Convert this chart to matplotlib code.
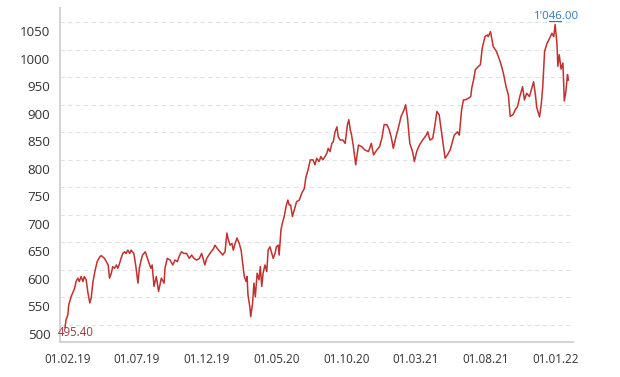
import pandas as pd
import matplotlib
matplotlib.use("Agg")
import matplotlib.pyplot as plt
import matplotlib.dates as mdates
import matplotlib.transforms as mtransforms

# closing prices
dates = [
    "2019-01-26", "2019-01-28", "2019-02-01", "2019-02-03", "2019-02-08", "2019-02-16", "2019-02-19",
    "2019-02-23", "2019-02-26", "2019-03-02", "2019-03-06", "2019-03-09", "2019-03-13", "2019-03-17",
    "2019-03-21", "2019-03-24", "2019-03-28", "2019-04-01", "2019-04-06", "2019-04-12", "2019-04-15",
    "2019-04-22", "2019-04-30", "2019-05-03", "2019-05-07", "2019-05-10", "2019-05-14", "2019-05-18",
    "2019-05-21", "2019-05-25", "2019-05-28", "2019-06-01", "2019-06-05", "2019-06-08", "2019-06-12",
    "2019-06-16", "2019-06-19", "2019-06-25", "2019-06-29", "2019-07-04", "2019-07-07", "2019-07-11",
    "2019-07-14", "2019-07-20", "2019-07-26", "2019-08-01", "2019-08-04", "2019-08-08", "2019-08-13",
    "2019-08-18", "2019-08-24", "2019-08-30", "2019-09-01", "2019-09-06", "2019-09-12", "2019-09-18",
    "2019-09-23", "2019-09-28", "2019-10-03", "2019-10-07", "2019-10-12", "2019-10-18", "2019-10-24",
    "2019-10-29", "2019-11-03", "2019-11-09", "2019-11-15", "2019-11-20", "2019-11-24", "2019-11-27",
    "2019-12-01", "2019-12-08", "2019-12-16", "2019-12-19", "2019-12-24", "2019-12-30",
    "2020-01-05", "2020-01-10", "2020-01-14", "2020-01-17", "2020-01-21", "2020-01-25", "2020-01-28",
    "2020-02-01", "2020-02-05", "2020-02-10", "2020-02-14", "2020-02-18", "2020-02-21", "2020-02-25",
    "2020-02-27", "2020-02-29", "2020-03-04", "2020-03-06", "2020-03-10", "2020-03-13", "2020-03-16",
    "2020-03-20", "2020-03-24", "2020-03-27", "2020-03-30", "2020-04-02", "2020-04-06", "2020-04-10",
    "2020-04-13", "2020-04-17", "2020-04-21", "2020-04-24", "2020-04-28", "2020-05-01", "2020-05-05",
    "2020-05-07", "2020-05-11", "2020-05-14", "2020-05-18", "2020-05-22", "2020-05-26", "2020-05-29",
    "2020-06-01", "2020-06-05", "2020-06-09", "2020-06-14", "2020-06-20", "2020-06-25", "2020-07-01",
    "2020-07-04", "2020-07-09", "2020-07-14", "2020-07-20", "2020-07-24", "2020-07-28", "2020-08-02",
    "2020-08-06", "2020-08-10", "2020-08-15", "2020-08-19", "2020-08-22", "2020-08-26", "2020-08-30",
    "2020-09-02", "2020-09-06", "2020-09-10", "2020-09-13", "2020-09-17", "2020-09-23", "2020-09-28",
    "2020-10-03", "2020-10-06", "2020-10-09", "2020-10-12", "2020-10-16", "2020-10-21", "2020-10-27",
    "2020-11-03", "2020-11-10", "2020-11-18", "2020-11-24", "2020-11-29", "2020-12-06", "2020-12-12",
    "2020-12-17", "2020-12-22", "2020-12-28",
    "2021-01-02", "2021-01-07", "2021-01-11", "2021-01-16", "2021-01-22", "2021-01-28", "2021-02-02",
    "2021-02-07", "2021-02-11", "2021-02-16", "2021-02-22", "2021-02-26", "2021-03-03", "2021-03-09",
    "2021-03-16", "2021-03-24", "2021-03-27", "2021-04-01", "2021-04-07", "2021-04-12", "2021-04-16",
    "2021-04-21", "2021-04-25", "2021-04-29", "2021-05-04", "2021-05-09", "2021-05-15", "2021-05-19",
    "2021-05-24", "2021-05-31", "2021-06-04", "2021-06-09", "2021-06-13", "2021-06-17", "2021-06-24",
    "2021-06-29", "2021-07-01", "2021-07-05", "2021-07-09", "2021-07-16", "2021-07-20", "2021-07-24",
    "2021-07-30", "2021-08-04", "2021-08-06", "2021-08-11", "2021-08-17", "2021-08-24", "2021-09-01",
    "2021-09-08", "2021-09-14", "2021-09-19", "2021-09-23", "2021-09-29", "2021-10-04", "2021-10-09",
    "2021-10-14", "2021-10-20", "2021-10-24", "2021-10-29", "2021-11-04", "2021-11-09", "2021-11-13",
    "2021-11-17", "2021-11-20", "2021-11-26", "2021-11-30", "2021-12-03", "2021-12-07", "2021-12-12",
    "2021-12-18", "2021-12-23", "2021-12-27", "2021-12-30",
    "2022-01-03", "2022-01-05", "2022-01-08", "2022-01-12", "2022-01-16", "2022-01-19", "2022-01-22",
    "2022-01-26", "2022-01-28",
]
prices = [
    495.4, 509, 518, 536, 551, 567, 579,
    585, 579, 588, 579, 588, 582, 558,
    540, 549, 579, 597, 615, 624, 626,
    621, 609, 585, 594, 606, 603, 609,
    603, 612, 621, 630, 633, 630, 636,
    630, 636, 630, 609, 576, 603, 618,
    627, 633, 618, 603, 609, 570, 588,
    561, 585, 576, 603, 621, 618, 609,
    618, 615, 627, 633, 630, 630, 621,
    627, 621, 618, 621, 630, 618, 609,
    621, 630, 639, 645, 639, 633,
    627, 633, 667, 655, 645, 648, 636,
    648, 658, 648, 636, 609, 588, 579,
    588, 555, 533, 515, 539, 576, 551,
    594, 582, 606, 570, 594, 609, 597,
    636, 642, 630, 621, 630, 642, 645,
    627, 673, 685, 697, 715, 727, 718,
    718, 697, 709, 724, 727, 739, 748,
    767, 782, 800, 800, 791, 803, 797,
    806, 800, 806, 812, 821, 815, 830,
    833, 851, 860, 842, 836, 836, 830,
    864, 873, 855, 845, 824, 791, 827,
    824, 818, 815, 830, 809, 818, 824,
    839, 864, 864,
    855, 839, 821, 839, 858, 879, 888,
    900, 876, 830, 815, 797, 815, 827,
    836, 845, 851, 836, 839, 864, 888,
    882, 858, 833, 803, 809, 818, 830,
    845, 851, 845, 891, 909, 909, 912,
    915, 930, 945, 964, 970, 973, 1003,
    1024, 1027, 1024, 1033, 1006, 997, 979,
    958, 933, 918, 879, 882, 891, 897,
    915, 933, 909, 921, 915, 930, 942,
    918, 895, 878, 903, 933, 997, 1011,
    1021, 1030, 1024, 1046,
    1011, 970, 991, 965, 976, 907, 921,
    955, 945,
]

x_ticks = ["2019-02-01", "2019-07-01", "2019-12-01", "2020-05-01",
           "2020-10-01", "2021-03-01", "2021-08-01", "2022-01-01"]
y_ticks = [500, 550, 600, 650, 700, 750, 800, 850, 900, 950, 1000, 1050]

df = pd.DataFrame({"date": pd.to_datetime(dates), "price": prices})

plt.rcParams["font.family"] = ["Open Sans", "DejaVu Sans"]

fig = plt.figure(figsize=(6.2, 3.77), dpi=100)
ax = fig.add_axes([0.0968, 0.0928, 0.8274, 0.886])

ax.plot(df["date"], df["price"], color="#c1312e", lw=1.1, zorder=3)

ax.set_ylim(469, 1076)
ax.set_xlim(pd.Timestamp("2019-01-15"), pd.Timestamp("2022-02-07"))
ax.set_yticks(y_ticks)
ax.set_xticks(pd.to_datetime(x_ticks))
ax.xaxis.set_major_formatter(mdates.DateFormatter("%d.%m.%y"))

ax.yaxis.grid(True, color="#e2e2e2", linestyle=(0, (4, 3)), lw=0.8)
ax.set_axisbelow(True)
for side in ["top", "right"]:
    ax.spines[side].set_visible(False)
for side in ["left", "bottom"]:
    ax.spines[side].set_color("#d4d4d4")
    ax.spines[side].set_linewidth(1.5)

ax.tick_params(axis="both", length=0, colors="#333333")
ax.tick_params(axis="y", labelsize=9.6, pad=7)
ax.tick_params(axis="x", labelsize=8.4, pad=8)

# y labels sit a bit below their grid lines
shift = mtransforms.ScaledTranslation(0, -6.5 / 72, fig.dpi_scale_trans)
for lbl in ax.get_yticklabels():
    lbl.set_transform(lbl.get_transform() + shift)

# min / max annotations
lo = df["price"].idxmin()
hi = df["price"].idxmax()
ax.annotate(f"{df['price'][lo]:.2f}", (df["date"][lo], df["price"][lo]),
            xytext=(-5.5, -3.5), textcoords="offset points",
            ha="left", va="center", fontsize=8.3, color="#a3343f")
hi_txt = f"{df['price'][hi]:,.2f}".replace(",", "'")
ax.annotate(hi_txt, (df["date"][hi], df["price"][hi]),
            xytext=(1, 5.5), textcoords="offset points",
            ha="center", va="center", fontsize=8.2, color="#2a7ab8")
up = mtransforms.ScaledTranslation(0, 2.2 / 72, fig.dpi_scale_trans)
span = pd.Timedelta(days=13)
ax.plot([df["date"][hi] - span, df["date"][hi] + span], [df["price"][hi]] * 2,
        color="#2a7ab8", lw=0.8, transform=ax.transData + up, clip_on=False)

fig.savefig("out.png", dpi=100)
